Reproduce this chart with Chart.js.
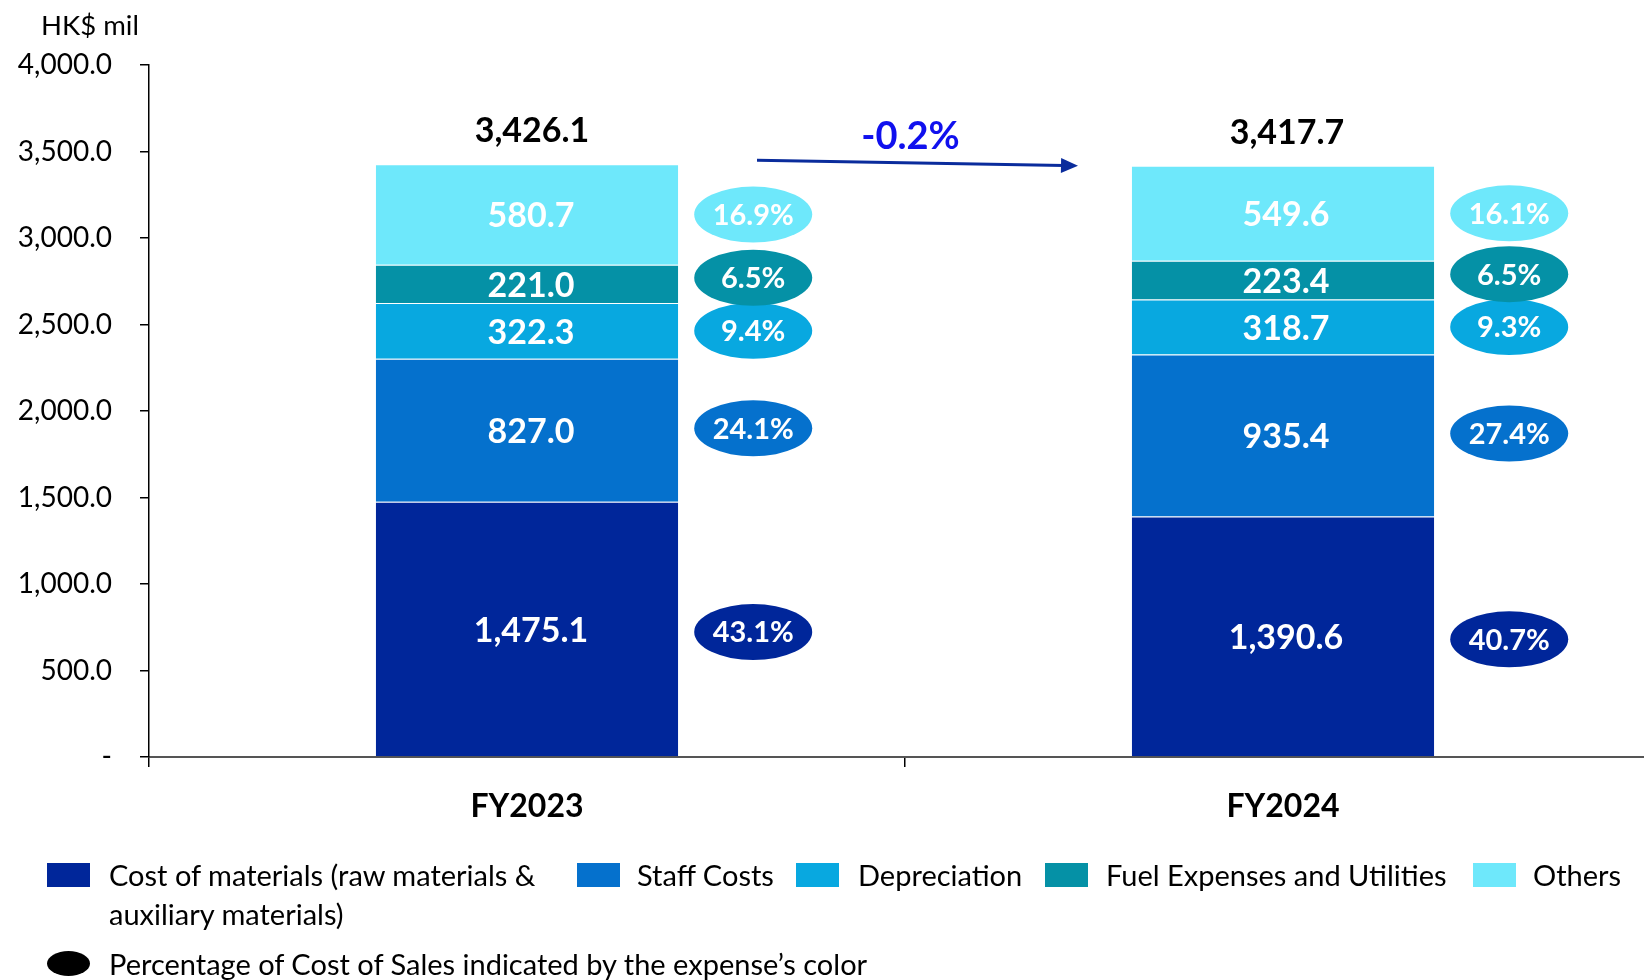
<!DOCTYPE html>
<html>
<head>
<meta charset="utf-8">
<script src="https://cdn.jsdelivr.net/npm/chart.js@4/dist/chart.umd.min.js"></script>
<style>
  html, body { margin: 0; padding: 0; background: #fff; overflow: hidden; }
  body { width: 1644px; height: 980px; position: relative; font-family: Lato, 'Open Sans', sans-serif; color: #000; }
  #wrap { position: absolute; left: 0; top: 0; width: 1661px; height: 980px; }
  #unit { position: absolute; left: 41px; top: 8px; font-size: 27.5px; line-height: 34px; }
  .lg-box { position: absolute; width: 43px; height: 24px; }
  .lg-text { position: absolute; font-size: 29px; line-height: 39px; white-space: nowrap; }
  .lg-dot { position: absolute; width: 43px; height: 25px; border-radius: 50%; background: #000; }
</style>
</head>
<body>
<div id="wrap"><canvas id="chart" width="1661" height="980"></canvas></div>
<div id="unit">HK$ mil</div>
<div id="legend"></div>

<script>
'use strict';

// ─── Data ────────────────────────────────────────────────────────────────────
const YEARS = ['FY2023', 'FY2024'];
const SERIES = ['Cost of materials (raw materials & auxiliary materials)', 'Staff Costs', 'Depreciation', 'Fuel Expenses and Utilities', 'Others'];
const MATERIALS    = [1475.1, 1390.6];
const STAFF        = [827.0, 935.4];
const DEPRECIATION = [322.3, 318.7];
const FUEL         = [221.0, 223.4];
const OTHERS       = [580.7, 549.6];
// percentage of cost of sales, per year, in series order
const PCT_FY2023 = [43.1, 24.1, 9.4, 6.5, 16.9];
const PCT_FY2024 = [40.7, 27.4, 9.3, 6.5, 16.1];
const Y_TICKS = [0, 500, 1000, 1500, 2000, 2500, 3000, 3500, 4000];

const COLORS = ['#00269a', '#0571cd', '#08a8e0', '#0591a6', '#6ee8fb'];
const BUBBLE_NUDGE = [3, -2, 0, -6, 0];   // px, small offsets as in the original layout
const LABEL_SHIFT = [4, 3];               // px, value labels sit a touch right of bar centre
const FONT = 'Lato, "Open Sans", sans-serif';

const values = [MATERIALS, STAFF, DEPRECIATION, FUEL, OTHERS];
const pcts = [PCT_FY2023, PCT_FY2024];
const totals = YEARS.map((_, i) => values.reduce((a, s) => a + s[i], 0));

const fmt1 = v => v.toLocaleString('en-US', { minimumFractionDigits: 1, maximumFractionDigits: 1 });

// ─── Overlay plugin: segment labels, bubbles, totals, change arrow ──────────
const overlay = {
  id: 'overlay',
  afterDatasetsDraw(chart) {
    const ctx = chart.ctx;
    const y = chart.scales.y;
    ctx.save();
    ctx.textAlign = 'center';
    ctx.textBaseline = 'middle';

    chart.data.datasets.forEach((ds, di) => {
      chart.getDatasetMeta(di).data.forEach((bar, i) => {
        const mid = (bar.y + bar.base) / 2;
        // value in the segment
        ctx.fillStyle = '#fff';
        ctx.font = 'bold 34px ' + FONT;
        ctx.fillText(fmt1(ds.data[i]), bar.x + LABEL_SHIFT[i], mid + 2);

        // percentage bubble to the right
        const bx = bar.x + bar.width / 2 + 75;
        const by = mid + BUBBLE_NUDGE[di];
        ctx.beginPath();
        ctx.ellipse(bx, by, 59, 28, 0, 0, Math.PI * 2);
        ctx.fillStyle = COLORS[di];
        ctx.fill();
        ctx.fillStyle = '#fff';
        ctx.font = 'bold 29px ' + FONT;
        ctx.fillText(pcts[i][di].toFixed(1) + '%', bx, by + 1);
      });
    });

    // totals above stacks
    const m0 = chart.getDatasetMeta(0).data;
    ctx.fillStyle = '#000';
    ctx.font = 'bold 34px ' + FONT;
    totals.forEach((t, i) => {
      ctx.fillText(fmt1(t), m0[i].x + LABEL_SHIFT[i] + 1, y.getPixelForValue(t) - 33);
    });

    // change arrow
    const x0 = m0[0].x + 230, y0 = y.getPixelForValue(totals[0]) - 4;
    const x1 = m0[1].x - 205, y1 = y.getPixelForValue(totals[1]);
    const ang = Math.atan2(y1 - y0, x1 - x0);
    ctx.strokeStyle = '#0a2c9c';
    ctx.fillStyle = '#0a2c9c';
    ctx.lineWidth = 3;
    ctx.beginPath();
    ctx.moveTo(x0, y0);
    ctx.lineTo(x1 - 14 * Math.cos(ang), y1 - 14 * Math.sin(ang));
    ctx.stroke();
    ctx.beginPath();
    ctx.moveTo(x1, y1);
    ctx.lineTo(x1 - 17 * Math.cos(ang) + 7.5 * Math.sin(ang), y1 - 17 * Math.sin(ang) - 7.5 * Math.cos(ang));
    ctx.lineTo(x1 - 17 * Math.cos(ang) - 7.5 * Math.sin(ang), y1 - 17 * Math.sin(ang) + 7.5 * Math.cos(ang));
    ctx.closePath();
    ctx.fill();

    const change = (totals[1] - totals[0]) / totals[0] * 100;
    ctx.fillStyle = '#1010ee';
    ctx.font = 'bold 38px ' + FONT;
    ctx.fillText(change.toFixed(1) + '%', (x0 + x1) / 2 - 7, (y0 + y1) / 2 - 26);

    ctx.restore();
  }
};

// ─── Chart ───────────────────────────────────────────────────────────────────
new Chart(document.getElementById('chart'), {
  type: 'bar',
  data: {
    labels: YEARS,
    datasets: SERIES.map((name, i) => ({
      label: name,
      data: values[i],
      backgroundColor: COLORS[i],
      borderColor: 'rgba(255,255,255,0.35)',
      borderWidth: { top: 1, right: 0, bottom: 0, left: 0 },
      borderSkipped: false,
      barPercentage: 0.4,
      categoryPercentage: 1.0,
    }))
  },
  options: {
    responsive: false,
    animation: false,
    devicePixelRatio: 1,
    layout: { padding: { top: 65, left: 0, right: 0, bottom: 163 } },
    plugins: { legend: { display: false }, tooltip: { enabled: false } },
    scales: {
      x: {
        stacked: true,
        afterFit(s) { s.height = 60; },
        grid: { offset: true, drawOnChartArea: false, drawTicks: true, tickLength: 10, color: '#000', lineWidth: 1.5 },
        border: { display: true, color: '#555', width: 2 },
        ticks: { color: '#000', font: { family: FONT, size: 32, weight: 'bold' }, padding: 20 },
      },
      y: {
        stacked: true,
        min: 0, max: 4000,
        afterFit(s) { s.width = 149; },
        afterBuildTicks(s) { s.ticks = Y_TICKS.map(v => ({ value: v })); },
        grid: { drawOnChartArea: false, drawTicks: true, tickLength: 9, color: '#000', lineWidth: 1.5 },
        border: { display: true, color: '#000', width: 1.5 },
        ticks: {
          color: '#000',
          font: { family: FONT, size: 28 },
          padding: 28,
          callback: v => v === 0 ? '-' : fmt1(v),
        },
      },
    },
  },
  plugins: [overlay],
});

// ─── Legend ──────────────────────────────────────────────────────────────────
const LEGEND_POS = [[47, 109], [577, 637], [796, 858], [1045, 1106], [1473, 1533]];
const legendEl = document.getElementById('legend');
SERIES.forEach((name, i) => {
  const box = document.createElement('div');
  box.className = 'lg-box';
  box.style.cssText = `left:${LEGEND_POS[i][0]}px;top:863px;background:${COLORS[i]}`;
  legendEl.appendChild(box);
  const txt = document.createElement('div');
  txt.className = 'lg-text';
  txt.style.cssText = `left:${LEGEND_POS[i][1]}px;top:855px`;
  txt.textContent = i === 0 ? 'Cost of materials (raw materials &' : name;
  legendEl.appendChild(txt);
  if (i === 0) {
    const t2 = document.createElement('div');
    t2.className = 'lg-text';
    t2.style.cssText = `left:109px;top:894px`;
    t2.textContent = 'auxiliary materials)';
    legendEl.appendChild(t2);
  }
});
const dot = document.createElement('div');
dot.className = 'lg-dot';
dot.style.cssText = 'left:47px;top:951px';
legendEl.appendChild(dot);
const dotTxt = document.createElement('div');
dotTxt.className = 'lg-text';
dotTxt.style.cssText = 'left:109px;top:944px';
dotTxt.textContent = 'Percentage of Cost of Sales indicated by the expense’s color';
legendEl.appendChild(dotTxt);
</script>
</body>
</html>
